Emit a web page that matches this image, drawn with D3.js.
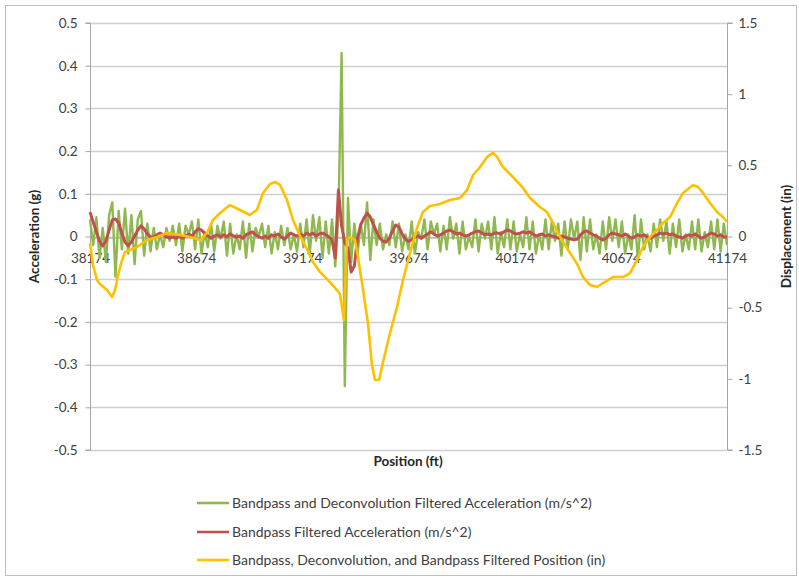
<!DOCTYPE html>
<html>
<head>
<meta charset="utf-8">
<script src="https://cdn.jsdelivr.net/npm/d3@7"></script>
<style>
  html, body { margin: 0; padding: 0; background: #fff; }
  svg { display: block; }
  text { font-family: Lato, "Open Sans", sans-serif; fill: #404040; }
</style>
</head>
<body>
<svg id="chart" width="799" height="578"></svg>
<script>
// ---------------- DATA ----------------
const xTicks = [38174, 38674, 39174, 39674, 40174, 40674, 41174];
const accTicks = [-0.5, -0.4, -0.3, -0.2, -0.1, 0, 0.1, 0.2, 0.3, 0.4, 0.5];
const accTickLabels = ["-0.5", "-0.4", "-0.3", "-0.2", "-0.1", "0", "0.1", "0.2", "0.3", "0.4", "0.5"];
const dispTicks = [-1.5, -1, -0.5, 0, 0.5, 1, 1.5];
const dispTickLabels = ["-1.5", "-1", "-0.5", "0", "0.5", "1", "1.5"];

const seriesNames = [
  "Bandpass and Deconvolution Filtered Acceleration (m/s^2)",
  "Bandpass Filtered Acceleration (m/s^2)",
  "Bandpass, Deconvolution, and Bandpass Filtered Position (in)"
];
const seriesColors = ["#8fb84e", "#c0504d", "#ffc000"];

// acceleration samples every 15 ft from 38174 to 41174
const accStart = 38174, accStep = 15;

const greenAcc = [
  0.04, -0.02, 0.045, -0.05, 0.02, -0.06, 0.05, 0.08, -0.095, 0.06,
  -0.03, 0.065, -0.04, 0.05, -0.065, 0.04, 0.06, -0.045, 0.03, -0.035,
  0.02, -0.03, 0.005, -0.025, 0.02, -0.01, 0.025, -0.02, 0.03, -0.035,
  0.025, 0.005, 0.035, -0.03, 0.04, -0.04, 0.01, -0.025, 0.03, -0.035,
  0.025, -0.005, 0.035, -0.045, 0.03, -0.04, 0.005, -0.03, 0.035, -0.05,
  0.03, -0.035, 0.02, 0.0, 0.03, -0.025, 0.025, -0.04, 0.01, -0.03,
  0.025, -0.02, 0.02, -0.03, 0.005, -0.035, 0.03, -0.025, 0.04, -0.04,
  0.05, -0.01, 0.045, -0.05, 0.035, -0.04, 0.04, -0.07, 0.05, 0.43,
  -0.35, 0.09, -0.06, 0.03, -0.04, 0.03, -0.02, 0.08, -0.055, 0.04,
  -0.02, 0.03, -0.03, 0.005, -0.02, 0.035, -0.025, 0.03, -0.035, 0.005,
  -0.03, 0.035, -0.04, 0.01, -0.005, 0.04, -0.03, 0.035, 0.005, 0.03,
  -0.035, 0.025, -0.03, 0.045, -0.005, 0.03, -0.04, 0.035, -0.03, 0.0,
  -0.025, 0.04, -0.035, 0.03, -0.005, 0.035, -0.03, 0.045, -0.04, 0.01,
  -0.025, 0.04, -0.03, 0.035, -0.035, 0.005, -0.025, 0.045, -0.03, 0.035,
  -0.04, 0.005, -0.03, 0.04, -0.03, 0.035, -0.01, 0.03, -0.045, 0.035,
  -0.03, 0.04, -0.005, 0.035, -0.055, 0.045, -0.035, 0.04, -0.03, 0.005,
  -0.04, 0.035, -0.03, 0.045, -0.01, 0.04, -0.025, 0.035, -0.04, 0.005,
  -0.03, 0.05, -0.055, 0.04, -0.03, 0.005, -0.035, 0.03, -0.025, 0.04,
  -0.01, 0.035, -0.04, 0.03, -0.025, 0.04, -0.035, 0.005, -0.03, 0.035,
  -0.03, 0.04, -0.035, 0.01, -0.025, 0.035, -0.03, 0.04, -0.035, 0.03,
  -0.02
];

const redAcc = [
  0.057, 0.034, 0.011, -0.011, -0.022, -0.011, 0.015, 0.039, 0.041, 0.032,
  0.008, -0.013, -0.022, -0.013, 0.001, 0.015, 0.025, 0.018, 0.006, -0.001,
  -0.001, 0.004, 0.008, 0.004, -0.001, -0.004, -0.001, -0.004, 0.001, -0.004,
  0.001, 0.006, 0.001, 0.011, 0.018, 0.015, 0.008, 0.001, -0.004, 0.001,
  0.004, -0.001, 0.004, -0.001, 0.006, 0.001, -0.001, 0.001, -0.004, 0.004,
  0.008, 0.011, 0.004, -0.001, -0.004, 0.001, -0.004, 0.004, 0.001, 0.006,
  -0.001, -0.006, 0.001, 0.008, 0.004, 0.001, 0.006, 0.001, 0.008, 0.004,
  0.008, 0.001, 0.006, 0.008, 0.004, -0.001, -0.008, -0.05, 0.109, 0.025,
  -0.015, -0.027, -0.083, -0.069, -0.004, 0.027, 0.043, 0.055, 0.046, 0.027,
  0.011, -0.004, -0.011, -0.013, -0.004, 0.013, 0.027, 0.022, 0.006, -0.006,
  -0.011, -0.008, -0.001, 0.001, -0.004, 0.001, 0.006, 0.011, 0.006, 0.001,
  0.004, 0.008, 0.013, 0.015, 0.011, 0.006, 0.008, 0.004, 0.001, 0.004,
  0.008, 0.011, 0.013, 0.008, 0.004, 0.006, 0.004, 0.008, 0.008, 0.006,
  0.011, 0.015, 0.013, 0.008, 0.006, 0.008, 0.011, 0.008, 0.011, 0.006,
  0.001, 0.004, 0.006, 0.001, 0.004, 0.001, -0.001, -0.004, 0.001, -0.001,
  -0.004, -0.006, -0.008, -0.006, 0.004, 0.011, 0.013, 0.008, 0.004, 0.001,
  -0.004, -0.008, -0.004, 0.004, 0.008, 0.006, 0.004, 0.001, 0.006, 0.001,
  -0.004, -0.001, 0.004, 0.001, 0.004, -0.001, -0.004, 0.001, 0.004, 0.008,
  0.006, 0.008, 0.004, 0.006, 0.001, -0.001, -0.004, 0.001, 0.004, 0.001,
  0.006, 0.001, -0.004, -0.001, 0.004, 0.008, 0.006, 0.001, 0.004, -0.001,
  -0.001
];

const posFt = [
  38174, 38188, 38207, 38221, 38254, 38278, 38292, 38306, 38325, 38339,
  38362, 38395, 38442, 38490, 38537, 38598, 38645, 38692, 38725, 38753,
  38786, 38833, 38880, 38927, 38960, 38989, 39022, 39045, 39069, 39102,
  39130, 39163, 39196, 39224, 39257, 39304, 39337, 39351, 39361, 39370,
  39384, 39398, 39422, 39436, 39460, 39483, 39502, 39516, 39535, 39554,
  39587, 39620, 39648, 39681, 39714, 39742, 39775, 39822, 39869, 39917,
  39950, 39978, 40011, 40044, 40072, 40091, 40119, 40166, 40213, 40246,
  40293, 40326, 40355, 40388, 40435, 40468, 40496, 40529, 40562, 40590,
  40637, 40685, 40717, 40750, 40778, 40811, 40844, 40873, 40906, 40939,
  40967, 41014, 41037, 41061, 41094, 41127, 41155, 41174
];
const posIn = [
  -0.046, -0.20, -0.306, -0.334, -0.376, -0.425, -0.376, -0.27, -0.165, -0.109,
  -0.095, -0.074, -0.025, -0.004, 0.025, 0.011, -0.004, -0.025, 0.025, 0.116,
  0.165, 0.221, 0.186, 0.151, 0.186, 0.306, 0.369, 0.383, 0.362, 0.256,
  0.116, 0.004, -0.088, -0.179, -0.249, -0.320, -0.376, -0.404, -0.495, -0.587,
  -0.025, -0.004, -0.025, -0.144, -0.376, -0.608, -0.903, -1.008, -1.008, -0.882,
  -0.678, -0.495, -0.306, -0.116, 0.060, 0.172, 0.214, 0.228, 0.256, 0.270,
  0.327, 0.432, 0.488, 0.559, 0.587, 0.559, 0.488, 0.418, 0.341, 0.270,
  0.207, 0.172, 0.095, -0.004, -0.116, -0.193, -0.285, -0.341, -0.355, -0.327,
  -0.285, -0.285, -0.257, -0.165, -0.074, -0.004, 0.046, 0.095, 0.137, 0.235,
  0.306, 0.362, 0.348, 0.306, 0.235, 0.172, 0.137, 0.102
];

// ---------------- CHART ----------------
const svg = d3.select("#chart");
const W = 799, H = 578;
const plot = { left: 90, right: 727, top: 23, bottom: 450 };

const x = d3.scaleLinear().domain([38174, 41174]).range([plot.left, plot.right]);
const yL = d3.scaleLinear().domain([-0.5, 0.5]).range([plot.bottom, plot.top]);
const yR = d3.scaleLinear().domain([-1.5, 1.5]).range([plot.bottom, plot.top]);

// outer border
svg.append("rect")
  .attr("x", 5.5).attr("y", 5.5).attr("width", W - 8).attr("height", H - 8)
  .attr("fill", "#fff").attr("stroke", "#bfbfbf").attr("stroke-width", 1);

// gridlines
svg.append("g").selectAll("line").data(accTicks).join("line")
  .attr("x1", plot.left).attr("x2", plot.right)
  .attr("y1", d => Math.round(yL(d)) + 0.5).attr("y2", d => Math.round(yL(d)) + 0.5)
  .attr("stroke", "#cfcfcf").attr("stroke-width", 1.4);

// left axis
const axL = svg.append("g").attr("transform", `translate(${plot.left + 0.5},0)`)
  .call(d3.axisLeft(yL).tickValues(accTicks).tickFormat((d, i) => accTickLabels[i]).tickSize(5).tickPadding(8));
axL.select(".domain").attr("stroke", "#a6a6a6").attr("d", `M-5,${plot.top}H0V${plot.bottom}H-5`);
axL.selectAll(".tick line").attr("stroke", "#a6a6a6");
axL.selectAll(".tick text").style("font-size", "13.5px").style("fill", "#404040").style("font-family", "Lato, sans-serif");

// right axis
const axR = svg.append("g").attr("transform", `translate(${plot.right + 0.5},0)`)
  .call(d3.axisRight(yR).tickValues(dispTicks).tickFormat((d, i) => dispTickLabels[i]).tickSize(5).tickPadding(6));
axR.select(".domain").attr("stroke", "#a6a6a6").attr("d", `M5,${plot.top}H0V${plot.bottom}H5`);
axR.selectAll(".tick line").attr("stroke", "#a6a6a6");
axR.selectAll(".tick text").style("font-size", "13.5px").style("fill", "#404040").style("font-family", "Lato, sans-serif");

// x axis at zero
const axX = svg.append("g").attr("transform", `translate(0,${Math.round(yL(0)) + 0.5})`)
  .call(d3.axisBottom(x).tickValues(xTicks).tickFormat(d3.format("d")).tickSize(0).tickPadding(16));
axX.select(".domain").attr("stroke", "#a6a6a6");
axX.selectAll(".tick text").style("font-size", "13.5px").style("fill", "#404040").style("font-family", "Lato, sans-serif");

// series
const greenData = greenAcc.map((v, i) => [accStart + i * accStep, v]);
const redData = redAcc.map((v, i) => [accStart + i * accStep, v]);
const yellowData = posFt.map((p, i) => [p, posIn[i]]);

const lineL = d3.line().x(d => x(d[0])).y(d => yL(d[1]));
const lineR = d3.line().x(d => x(d[0])).y(d => yR(d[1]));

svg.append("path").datum(greenData).attr("d", lineL)
  .attr("fill", "none").attr("stroke", seriesColors[0]).attr("stroke-width", 2.4).attr("stroke-linejoin", "round");
svg.append("path").datum(redData).attr("d", lineL)
  .attr("fill", "none").attr("stroke", seriesColors[1]).attr("stroke-width", 3).attr("stroke-linejoin", "round");
svg.append("path").datum(yellowData).attr("d", lineR)
  .attr("fill", "none").attr("stroke", seriesColors[2]).attr("stroke-width", 2.6).attr("stroke-linejoin", "round");

// axis titles
svg.append("text")
  .attr("transform", `translate(39,${(plot.top + plot.bottom) / 2}) rotate(-90)`)
  .attr("text-anchor", "middle")
  .style("font-size", "13.5px").style("font-weight", "bold").style("fill", "#262626")
  .text("Acceleration (g)");
svg.append("text")
  .attr("transform", `translate(791,${(plot.top + plot.bottom) / 2}) rotate(-90)`)
  .attr("text-anchor", "middle")
  .style("font-size", "13.5px").style("font-weight", "bold").style("fill", "#262626")
  .text("Displacement (in)");
svg.append("text")
  .attr("x", 408).attr("y", 466)
  .attr("text-anchor", "middle")
  .style("font-size", "13.5px").style("font-weight", "bold").style("fill", "#262626")
  .text("Position (ft)");

// legend
const legY = [503, 532, 560];
const leg = svg.append("g");
seriesNames.forEach((name, i) => {
  leg.append("line")
    .attr("x1", 197).attr("x2", 229).attr("y1", legY[i]).attr("y2", legY[i])
    .attr("stroke", seriesColors[i]).attr("stroke-width", 2.6);
  leg.append("text")
    .attr("x", 232).attr("y", legY[i]).attr("dy", "0.35em")
    .style("font-size", "14px").style("fill", "#404040")
    .text(name);
});
</script>
</body>
</html>
